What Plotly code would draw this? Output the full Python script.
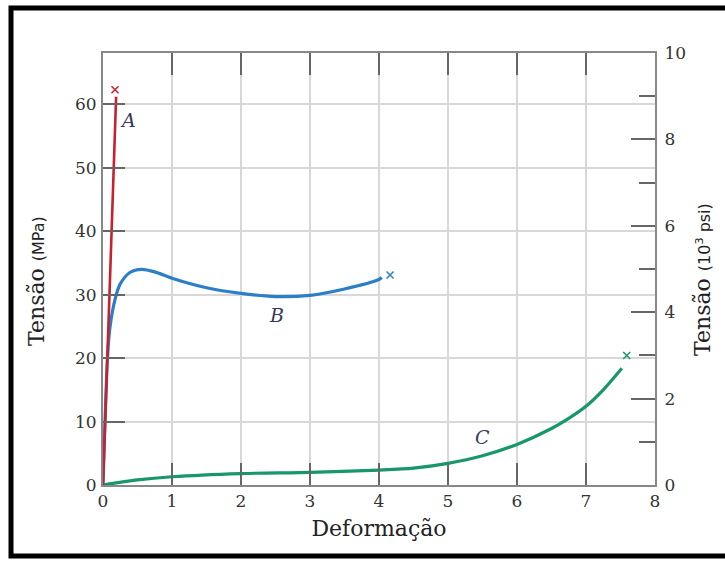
import plotly.graph_objects as go

# ---- data ----
strain_ticks = [0, 1, 2, 3, 4, 5, 6, 7, 8]
mpa_ticks = [0, 10, 20, 30, 40, 50, 60]
ksi_ticks = [0, 2, 4, 6, 8, 10]

a_x = [0, 0.1, 0.19]
a_y = [0, 32, 61.2]
a_break = (0.174, 62.3)

b_x = [0, 0.065, 0.1, 0.18, 0.25, 0.39, 0.56, 0.75, 1.0, 1.5, 2.0, 2.5, 3.0, 3.5, 4.0, 4.04]
b_y = [0, 20, 24.8, 29.5, 31.7, 33.5, 34.0, 33.6, 32.6, 31.1, 30.2, 29.7, 29.9, 30.9, 32.4, 32.7]
b_break = (4.16, 33.1)

c_x = [0, 0.5, 1, 2, 3, 4, 4.5, 5, 5.5, 6, 6.5, 6.75, 7, 7.25, 7.52]
c_y = [0, 0.8, 1.3, 1.8, 2.0, 2.35, 2.65, 3.4, 4.6, 6.4, 8.9, 10.5, 12.4, 15.0, 18.4]
c_break = (7.59, 20.4)

labels = [("A", 0.36, 57.6), ("B", 2.52, 26.8), ("C", 5.5, 7.6)]

MPA_MAX = 68.1     # left axis top (as drawn in the reference)
KSI_MAX = 10       # right axis top

RED = "#c8202e"
BLUE = "#2a7fc8"
GREEN = "#17976a"
SERIF = "DejaVu Serif"

fig = go.Figure()

for xs, ys, brk, col, lw in [(b_x, b_y, b_break, BLUE, 3.2), (c_x, c_y, c_break, GREEN, 3.2), (a_x, a_y, a_break, RED, 2.6)]:
    fig.add_trace(go.Scatter(x=xs, y=ys, mode="lines", line=dict(color=col, width=lw, shape="spline", smoothing=0.8),
                             showlegend=False, hoverinfo="skip"))
    fig.add_trace(go.Scatter(x=[brk[0]], y=[brk[1]], mode="markers",
                             marker=dict(symbol="x-thin", size=7, line=dict(color=col, width=1.5)),
                             showlegend=False, hoverinfo="skip"))

# dummy trace for right axis
fig.add_trace(go.Scatter(x=[None], y=[None], yaxis="y2", showlegend=False, hoverinfo="skip"))

for txt, lx, ly in labels:
    fig.add_annotation(x=lx, y=ly, text=f"<i>{txt}</i>", showarrow=False,
                       font=dict(family=SERIF, size=19, color="#3a3a5a"))

W, H = 725, 562
L, T = 103, 53
R = W - 655
B = H - 485
pw, ph = W - L - R, H - T - B

def px(xp):
    return (xp - L) / pw

def py(yp):
    return (H - B - yp) / ph

# outer black frame
fig.add_shape(type="rect", xref="paper", yref="paper", x0=px(11), x1=px(760), y0=py(556), y1=py(8),
              line=dict(color="black", width=5), layer="below")

# axis titles as rotated annotations
fig.add_annotation(xref="paper", yref="paper", x=px(36), y=py(281), textangle=-90,
                   xanchor="center", yanchor="middle", showarrow=False,
                   text="Tensão <span style='font-family:DejaVu Sans;font-size:16px'>(MPa)</span>",
                   font=dict(family=SERIF, size=22, color="#222"))
fig.add_annotation(xref="paper", yref="paper", x=px(702), y=py(280), textangle=-90,
                   xanchor="center", yanchor="middle", showarrow=False,
                   text="Tensão <span style='font-family:DejaVu Sans;font-size:16px'>(10<sup>3</sup> psi)</span>",
                   font=dict(family=SERIF, size=22, color="#222"))

tickfont = dict(family=SERIF, size=17, color="#333333")
axcol = "#888888"

fig.update_layout(
    width=W, height=H,
    margin=dict(l=L, r=R, t=T, b=B),
    paper_bgcolor="white", plot_bgcolor="white",
    xaxis=dict(range=[0, 8], tickvals=strain_ticks, ticks="inside", ticklen=22, tickwidth=2, tickcolor="#666",
               showline=True, linecolor=axcol, linewidth=2, mirror="ticks",
               showgrid=True, gridcolor="#d8d8d8", gridwidth=2, zeroline=False,
               tickfont=tickfont,
               title=dict(text="Deformação", font=dict(family=SERIF, size=22, color="#222"), standoff=10)),
    yaxis=dict(range=[0, MPA_MAX], tickvals=mpa_ticks, ticks="inside", ticklen=22, tickwidth=2,
               tickcolor="#666", showline=True, linecolor=axcol, linewidth=2,
               showgrid=True, gridcolor="#d8d8d8", gridwidth=2, zeroline=False,
               tickfont=tickfont, ticklabelstandoff=1),
    yaxis2=dict(range=[0, KSI_MAX], overlaying="y", side="right", anchor="x",
                tickvals=ksi_ticks, ticks="inside", ticklen=24, tickwidth=2, tickcolor="#666",
                minor=dict(ticks="inside", ticklen=16, tickwidth=2, tickcolor="#666", dtick=1, showgrid=False),
                showline=True, linecolor=axcol, linewidth=2, showgrid=False, zeroline=False,
                tickfont=tickfont, ticklabelstandoff=4),
)

fig.write_html("out.html", config={"displayModeBar": False},
               post_script="document.body.style.margin='0';")
